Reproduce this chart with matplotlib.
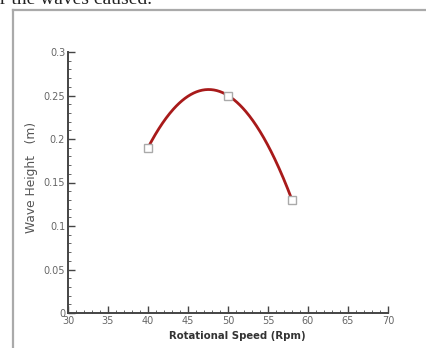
import matplotlib.pyplot as plt
import numpy as np

# data
speed = [40, 50, 58]
wave_height = [0.19, 0.25, 0.13]

x_ticks = [30, 35, 40, 45, 50, 55, 60, 65, 70]
y_ticks = [0, 0.05, 0.1, 0.15, 0.2, 0.25, 0.3]
y_tick_labels = ['0', '0.05', '0.1', '0.15', '0.2', '0.25', '0.3']

fig = plt.figure(figsize=(4.27, 3.48), dpi=100)

# page text and frame from the document screenshot
fig.text(0.0, 1.0, "r the waves caused.", fontsize=14, family='Liberation Serif',
         color='#222222', va='center', ha='left')
fig.add_artist(plt.Line2D([13/427, 13/427], [0, 1 - 10/348], color='#aaaaaa', lw=1.6))
fig.add_artist(plt.Line2D([13/427, 1], [1 - 10/348, 1 - 10/348], color='#aaaaaa', lw=1.6))

ax = fig.add_axes([68/427, 35/348, 320/427, 261/348])

# smooth curve through the points
coef = np.polyfit(speed, wave_height, 2)
xs = np.linspace(speed[0], speed[-1], 200)
ax.plot(xs, np.polyval(coef, xs), color='#a81a1a', linewidth=2, zorder=2)
ax.plot(speed, wave_height, linestyle='none', marker='s', markersize=6,
        markerfacecolor='white', markeredgecolor='#aaaaaa', markeredgewidth=1, zorder=3)

ax.set_xlim(30, 70)
ax.set_ylim(0, 0.3)
ax.set_xticks(x_ticks)
ax.set_yticks(y_ticks)
ax.set_yticklabels(y_tick_labels)
ax.set_xticks(np.arange(30, 71, 1), minor=True)
ax.set_yticks(np.arange(0, 0.301, 0.01), minor=True)

for side in ['top', 'right']:
    ax.spines[side].set_visible(False)
for side in ['left', 'bottom']:
    ax.spines[side].set_color('#444444')
    ax.spines[side].set_linewidth(1.4)

ax.tick_params(which='major', direction='in', length=5, width=1, color='#444444',
               labelsize=7, labelcolor='#666666', pad=2)
ax.tick_params(which='minor', direction='in', length=2.5, width=0.7, color='#666666')

ax.set_xlabel("Rotational Speed (Rpm)", fontsize=7.3, fontweight='bold', color='#333333')
ax.xaxis.set_label_coords(0.53, -0.07)
ax.set_ylabel("Wave Height   (m)", fontsize=8.8, color='#555555')
ax.yaxis.set_label_coords(-0.095, 0.52)

plt.savefig('out.png', dpi=100)
